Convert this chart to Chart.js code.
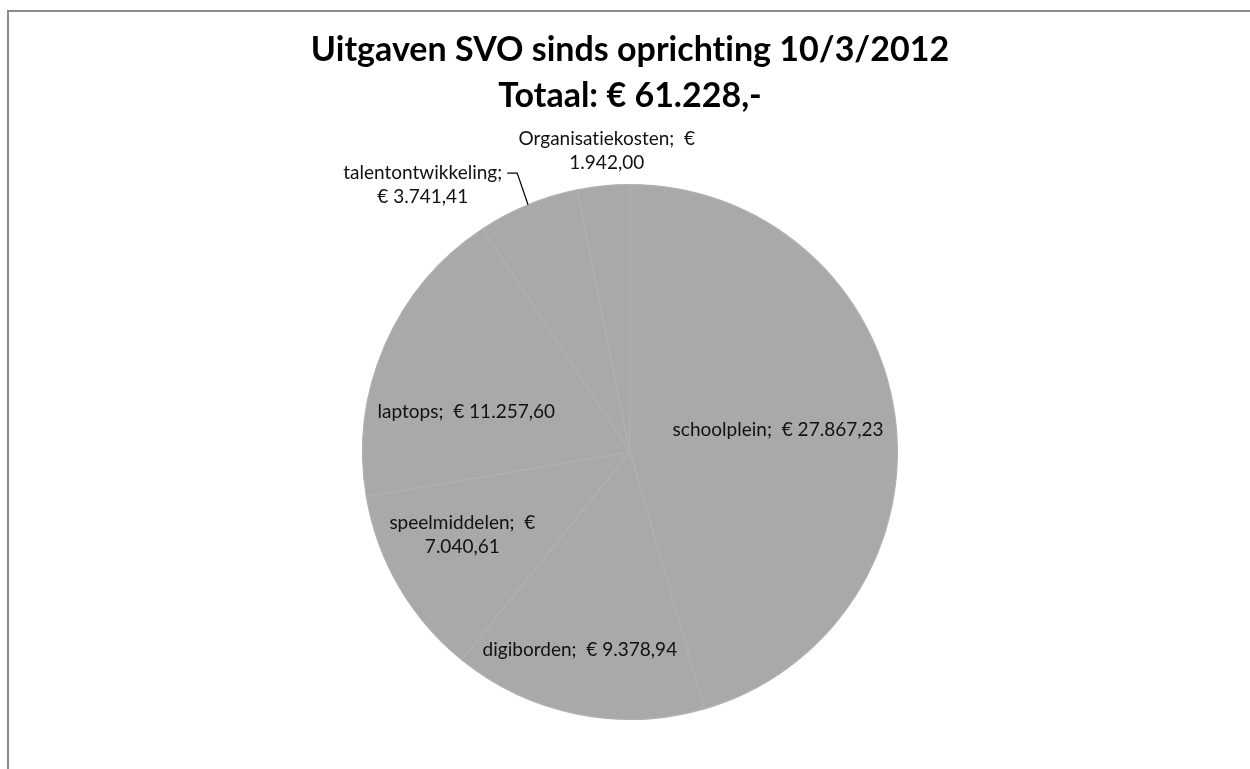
<!DOCTYPE html>
<html>
<head>
<meta charset="utf-8">
<script src="https://cdn.jsdelivr.net/npm/chart.js@4"></script>
<style>
  html, body { margin: 0; padding: 0; background: #fff; }
  #frame { position: absolute; left: 7px; top: 10px; width: 1243px; height: 759px;
           border-left: 2px solid #8a8a8a; border-top: 2px solid #8a8a8a; box-sizing: border-box; }
  #wrap { position: absolute; left: 0; top: 0; width: 1250px; height: 769px; }
</style>
</head>
<body>
<div id="frame"></div>
<div id="wrap"><canvas id="pie"></canvas></div>
<script>
// --- data ---
const categories = ['schoolplein', 'digiborden', 'speelmiddelen', 'laptops', 'talentontwikkeling', 'Organisatiekosten'];
const amounts = [27867.23, 9378.94, 7040.61, 11257.60, 3741.41, 1942.00];
const titleLines = ['Uitgaven SVO sinds oprichting 10/3/2012', 'Totaal: € 61.228,-'];

// 27867.23 -> "27.867,23"
function euro(v) {
    const [i, d] = v.toFixed(2).split('.');
    return i.replace(/\B(?=(\d{3})+(?!\d))/g, '.') + ',' + d;
}

function labelLines(i, brk) {
    const name = categories[i], num = euro(amounts[i]);
    if (brk === 'name') return [name + ';', '€ ' + num];
    if (brk === 'euro') return [name + ';  €', num];
    return [name + ';  € ' + num];
}

// Lato has a "ti" ligature, Calibri doesn't: tiny letter spacing switches it off
const noLigatures = {
    id: 'noLigatures',
    beforeDraw(chart) {
        chart.ctx.letterSpacing = '0.01px';
    }
};

// labels drawn on / beside each slice, Excel style
const sliceLabels = {
    id: 'sliceLabels',
    afterDatasetsDraw(chart, args, opts) {
        const ctx = chart.ctx;
        const meta = chart.getDatasetMeta(0);
        ctx.save();
        ctx.letterSpacing = '0.01px';
        ctx.font = opts.font;
        ctx.fillStyle = opts.color;
        ctx.textAlign = 'center';
        ctx.textBaseline = 'middle';
        meta.data.forEach((arc, i) => {
            const p = arc.getProps(['x', 'y', 'startAngle', 'endAngle', 'outerRadius'], true);
            const place = opts.places[i];
            const mid = (p.startAngle + p.endAngle) / 2;
            const a = mid + place.shift * Math.PI / 180;
            const lines = labelLines(i, place.brk);
            let cx = p.x + Math.cos(a) * p.outerRadius * place.r;
            let cy = p.y + Math.sin(a) * p.outerRadius * place.r;
            if (place.leader) {
                const ex = p.x + Math.cos(mid) * p.outerRadius;
                const ey = p.y + Math.sin(mid) * p.outerRadius;
                ctx.beginPath();
                ctx.strokeStyle = '#000';
                ctx.lineWidth = 1.2;
                ctx.moveTo(ex, ey);
                ctx.lineTo(cx, cy);
                ctx.lineTo(cx - 10, cy);
                ctx.stroke();
                const w = Math.max(...lines.map(l => ctx.measureText(l).width));
                cx = cx - 15 - w / 2;
                cy = cy + opts.lineHeight / 2;
            }
            lines.forEach((l, k) => {
                ctx.fillText(l, cx, cy + (k - (lines.length - 1) / 2) * opts.lineHeight);
            });
        });
        ctx.restore();
    }
};

new Chart(document.getElementById('pie'), {
    type: 'pie',
    data: {
        labels: categories,
        datasets: [{
            data: amounts,
            backgroundColor: '#a9a9a9',
            borderColor: '#b1b1b1',
            borderWidth: 1.2,
            hoverOffset: 0
        }]
    },
    options: {
        responsive: true,
        maintainAspectRatio: false,
        animation: false,
        layout: { padding: { left: 10, right: 0, top: 0, bottom: 49 } },
        plugins: {
            legend: { display: false },
            tooltip: { enabled: false },
            title: {
                display: true,
                text: titleLines,
                color: '#000',
                font: { family: 'Lato', size: 34, weight: 'bold', lineHeight: 46 / 34 },
                padding: { top: 27, bottom: 65 }
            },
            sliceLabels: {
                font: '19px Lato',
                color: '#111',
                lineHeight: 24,
                places: [
                    { r: 0.56, shift: -0.4 },
                    { r: 0.763, shift: 2.8 },
                    { r: 0.70, shift: 3.9, brk: 'euro' },
                    { r: 0.63, shift: -9.8 },
                    { r: 1.125, shift: 0.4, brk: 'name', leader: true },
                    { r: 1.128, shift: 1.3, brk: 'euro' }
                ]
            }
        }
    },
    plugins: [noLigatures, sliceLabels]
});
</script>
</body>
</html>
